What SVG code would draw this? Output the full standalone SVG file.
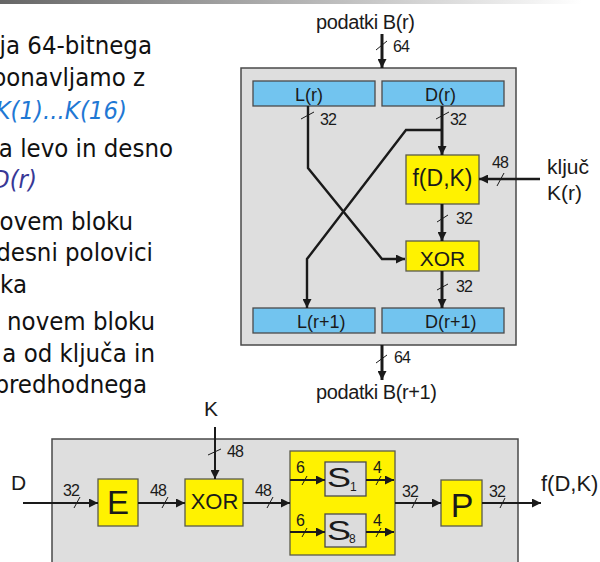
<svg xmlns="http://www.w3.org/2000/svg" width="600" height="562" viewBox="0 0 600 562">
<defs>
<linearGradient id="topbar" x1="0" y1="0" x2="1" y2="0">
<stop offset="0" stop-color="#666"/>
<stop offset="0.5" stop-color="#b4b4b4"/>
<stop offset="0.97" stop-color="#fff"/>
</linearGradient>
<marker id="ah" viewBox="0 0 10 10" refX="10" refY="5" markerWidth="11" markerHeight="9" markerUnits="userSpaceOnUse" orient="auto">
<path d="M0,0 L10,5 L0,10 z" fill="#1a1a1a"/>
</marker>
<marker id="ahs" viewBox="0 0 10 10" refX="10" refY="5" markerWidth="11" markerHeight="9" markerUnits="userSpaceOnUse" orient="auto">
<path d="M0,0 L10,5 L0,10 z" fill="#1a1a1a"/>
</marker>
</defs>
<style>
.bullet{font-family:"DejaVu Sans Condensed","DejaVu Sans",sans-serif;font-size:25.5px;fill:#111;text-anchor:end}
.it1{font-style:italic;fill:#1f78d4}
.it2{font-style:italic;fill:#383896}
.lbl{font-family:"Liberation Sans",Arial,sans-serif;fill:#1a1a1a}
.num{font-family:"Liberation Sans",Arial,sans-serif;font-size:16px;fill:#1a1a1a;letter-spacing:-1px}
.gray{fill:#dedede;stroke:#4a4a4a;stroke-width:1.5}
.blue{fill:#72c4ef;stroke:#4a4a4a;stroke-width:1.3}
.yel{fill:#fff200;stroke:#5a5a4a;stroke-width:1.3}
.sbox{fill:#dcdcdc;stroke:#4a4a4a;stroke-width:1.3}
.w{fill:none;stroke:#1a1a1a;stroke-linejoin:miter}
.t3{stroke-width:3}
.t25{stroke-width:2.4}
.t2{stroke-width:2}
.sl{stroke:#1a1a1a;stroke-width:1}
.c{text-anchor:middle}
</style>
<rect x="0" y="0" width="600" height="4" fill="url(#topbar)"/>

<g id="text">
<text class="bullet" x="152" y="54">ja 64-bitnega</text>
<text class="bullet" x="145" y="86">ponavljamo z</text>
<text class="bullet it1" x="127" y="119">K(1)...K(16)</text>
<text class="bullet" x="173" y="157">a levo in desno</text>
<text class="bullet it2" x="37" y="188">D(r)</text>
<text class="bullet" x="133" y="230">ovem bloku</text>
<text class="bullet" x="153" y="261">desni polovici</text>
<text class="bullet" x="27" y="293">ka</text>
<text class="bullet" x="155" y="330">novem bloku</text>
<text class="bullet" x="155" y="362">a od ključa in</text>
<text class="bullet" x="147" y="393">predhodnega</text>
</g>

<g id="round">
<rect class="gray" x="241" y="68" width="275" height="277"/>
</g>
<g id="Lr"><rect class="blue" x="253" y="81" width="122" height="25"/><text class="lbl" x="295" y="101" font-size="18">L(r)</text></g>
<g id="Dr"><rect class="blue" x="382" y="81" width="122" height="25"/><text class="lbl" x="425" y="101" font-size="18">D(r)</text></g>
<g id="f"><rect class="yel" x="406" y="155" width="73" height="49"/><text class="lbl c" x="442.5" y="186" font-size="23">f(D,K)</text></g>
<g id="xor"><rect class="yel" x="406" y="241" width="73" height="30"/><text class="lbl c" x="442.5" y="266" font-size="21">XOR</text></g>
<g id="Lr1"><rect class="blue" x="253" y="308" width="122" height="25"/><text class="lbl" x="297" y="328" font-size="18">L(r+1)</text></g>
<g id="Dr1"><rect class="blue" x="382" y="308" width="122" height="25"/><text class="lbl" x="425" y="328" font-size="18">D(r+1)</text></g>
<g id="inB"><text class="lbl" x="316" y="29" font-size="20" letter-spacing="-0.4">podatki B(r)</text></g>
<g id="outB"><text class="lbl" x="316" y="399" font-size="20" letter-spacing="-0.4">podatki B(r+1)</text></g>
<g id="key"><text class="lbl" x="547" y="174" font-size="21">ključ</text><text class="lbl" x="547" y="200" font-size="21">K(r)</text></g>

<g id="fbox">
<rect class="gray" x="52" y="439" width="466" height="130"/>
</g>
<g id="E"><rect class="yel" x="98" y="479" width="40" height="47"/><text class="lbl c" x="118" y="514" font-size="33">E</text></g>
<g id="xor2"><rect class="yel" x="185" y="479" width="58" height="47"/><text class="lbl c" x="214.5" y="509" font-size="22">XOR</text></g>
<g id="S">
<rect class="yel" x="290" y="451" width="105" height="104"/>
<rect class="sbox" x="325" y="462" width="41" height="34"/>
<text class="lbl" x="327" y="487" font-size="28" textLength="24" lengthAdjust="spacingAndGlyphs">S</text>
<text class="lbl" x="350" y="491" font-size="12">1</text>
<rect class="sbox" x="325" y="514" width="41" height="33"/>
<text class="lbl" x="327" y="540" font-size="28" textLength="24" lengthAdjust="spacingAndGlyphs">S</text>
<text class="lbl" x="349" y="543" font-size="12">8</text>
</g>
<g id="P"><rect class="yel" x="441" y="480" width="41" height="46"/><text class="lbl c" x="462" y="517" font-size="34">P</text></g>
<g id="labels2">
<text class="lbl" x="204" y="416" font-size="21">K</text>
<text class="lbl" x="11" y="490" font-size="21">D</text>
<text class="lbl" x="541" y="491" font-size="22">f(D,K)</text>
</g>

<g id="connectors">
<line class="w t3" x1="382" y1="34" x2="382" y2="68" marker-end="url(#ah)"/>
<polyline class="w t25" points="308,106 308,168 382,259 405,259" marker-end="url(#ah)"/>
<line class="w t3" x1="442" y1="106" x2="442" y2="155" marker-end="url(#ah)"/>
<polyline class="w t25" points="442,130 406,130 307,259 307,308" marker-end="url(#ah)"/>
<line class="w t25" x1="540" y1="179" x2="479" y2="179" marker-end="url(#ah)"/>
<line class="w t3" x1="442" y1="204" x2="442" y2="241" marker-end="url(#ah)"/>
<line class="w t3" x1="442" y1="271" x2="442" y2="308" marker-end="url(#ah)"/>
<line class="w t3" x1="382" y1="345" x2="382" y2="380" marker-end="url(#ah)"/>
<line class="sl" x1="376" y1="50" x2="387" y2="41"/>
<line class="sl" x1="301" y1="119" x2="314" y2="112"/>
<line class="sl" x1="436" y1="119" x2="449" y2="112"/>
<line class="sl" x1="497" y1="186" x2="504" y2="173"/>
<line class="sl" x1="437" y1="222" x2="448" y2="215"/>
<line class="sl" x1="437" y1="290" x2="448" y2="284"/>
<line class="sl" x1="376" y1="363" x2="387" y2="355"/>

<line class="w t2" x1="23" y1="503" x2="98" y2="503" marker-end="url(#ahs)"/>
<line class="w t2" x1="138" y1="503" x2="185" y2="503" marker-end="url(#ahs)"/>
<line class="w t2" x1="215" y1="427" x2="215" y2="479" marker-end="url(#ahs)"/>
<line class="w t2" x1="243" y1="503" x2="290" y2="503" marker-end="url(#ahs)"/>
<line class="w t2" x1="290" y1="480" x2="325" y2="480" marker-end="url(#ahs)"/>
<line class="w t2" x1="366" y1="480" x2="394" y2="480" marker-end="url(#ahs)"/>
<line class="w t2" x1="290" y1="532" x2="325" y2="532" marker-end="url(#ahs)"/>
<line class="w t2" x1="366" y1="532" x2="394" y2="532" marker-end="url(#ahs)"/>
<line class="w t2" x1="395" y1="503" x2="441" y2="503" marker-end="url(#ahs)"/>
<line class="w t2" x1="482" y1="503" x2="541" y2="503" marker-end="url(#ahs)"/>
<line class="sl" x1="74" y1="508" x2="80" y2="497"/>
<line class="sl" x1="162" y1="508" x2="168" y2="497"/>
<line class="sl" x1="208" y1="455" x2="221" y2="449"/>
<line class="sl" x1="267" y1="508" x2="273" y2="497"/>
<line class="sl" x1="302" y1="485" x2="307" y2="476"/>
<line class="sl" x1="376" y1="485" x2="381" y2="476"/>
<line class="sl" x1="302" y1="537" x2="307" y2="528"/>
<line class="sl" x1="376" y1="537" x2="381" y2="528"/>
<line class="sl" x1="412" y1="508" x2="417" y2="498"/>
<line class="sl" x1="500" y1="508" x2="505" y2="498"/>
</g>

<g id="numbers">
<text class="num" x="393" y="52">64</text>
<text class="num" x="320" y="125">32</text>
<text class="num" x="450" y="125">32</text>
<text class="num" x="492" y="168">48</text>
<text class="num" x="456" y="224">32</text>
<text class="num" x="456" y="292">32</text>
<text class="num" x="394" y="363">64</text>
<text class="num" x="63" y="496">32</text>
<text class="num" x="150" y="496">48</text>
<text class="num" x="227" y="457">48</text>
<text class="num" x="255" y="496">48</text>
<text class="num" x="296" y="473">6</text>
<text class="num" x="373" y="473">4</text>
<text class="num" x="296" y="526">6</text>
<text class="num" x="373" y="526">4</text>
<text class="num" x="402" y="497">32</text>
<text class="num" x="489" y="497">32</text>
</g>
</svg>
